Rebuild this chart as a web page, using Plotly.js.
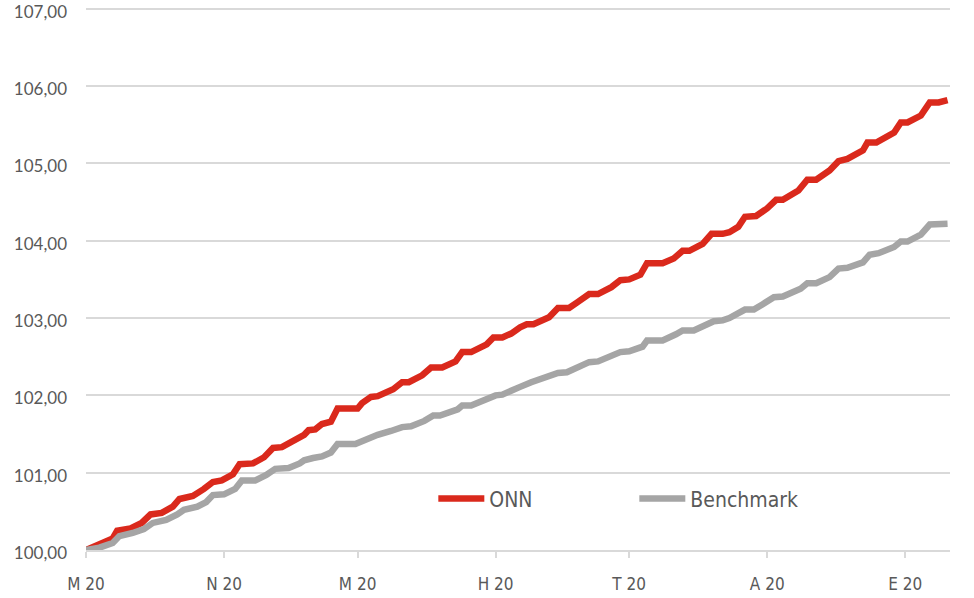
<!DOCTYPE html>
<html>
<head>
<meta charset="utf-8">
<script src="https://cdn.plot.ly/plotly-3.0.1.min.js"></script>
<style>
  html, body { margin: 0; padding: 0; background: #ffffff; }
  #chart { width: 974px; height: 598px; }
</style>
</head>
<body>
<div id="chart"></div>
<script>
// Days from the start of the period
const onnDays = [0, 6, 12, 14, 20, 25, 29, 34, 39, 42, 48, 53, 57, 61, 66, 69, 75, 80, 84, 88, 93, 98, 100, 103, 106, 110, 113, 122, 124, 128, 131, 138, 142, 145, 151, 155, 160, 166, 169, 173, 180, 183, 187, 191, 195, 198, 201, 208, 212, 217, 221, 226, 230, 236, 240, 244, 249, 252, 259, 264, 268, 271, 277, 281, 286, 289, 293, 296, 301, 306, 310, 313, 320, 324, 328, 334, 338, 342, 349, 351, 355, 363, 366, 369, 375, 379, 383, 387];
const onnValues = [100.00, 100.08, 100.15, 100.25, 100.28, 100.35, 100.46, 100.48, 100.56, 100.66, 100.70, 100.79, 100.88, 100.90, 100.98, 101.11, 101.12, 101.20, 101.32, 101.33, 101.41, 101.49, 101.55, 101.56, 101.63, 101.66, 101.83, 101.83, 101.90, 101.98, 101.99, 102.08, 102.17, 102.17, 102.26, 102.36, 102.36, 102.44, 102.56, 102.56, 102.66, 102.75, 102.75, 102.80, 102.88, 102.92, 102.92, 103.01, 103.13, 103.13, 103.21, 103.31, 103.31, 103.40, 103.49, 103.50, 103.56, 103.71, 103.71, 103.77, 103.87, 103.87, 103.96, 104.09, 104.09, 104.11, 104.18, 104.31, 104.32, 104.42, 104.53, 104.53, 104.65, 104.79, 104.79, 104.91, 105.03, 105.06, 105.17, 105.27, 105.27, 105.40, 105.53, 105.53, 105.62, 105.79, 105.79, 105.82];

const benchDays = [0, 6, 12, 15, 21, 26, 30, 36, 41, 44, 50, 54, 57, 62, 67, 70, 76, 81, 85, 91, 96, 98, 102, 106, 110, 113, 121, 128, 131, 137, 142, 146, 152, 156, 159, 167, 169, 173, 181, 184, 187, 191, 195, 200, 207, 212, 216, 221, 226, 230, 236, 240, 244, 250, 252, 259, 265, 268, 273, 279, 282, 286, 289, 296, 300, 304, 309, 313, 321, 324, 328, 334, 338, 342, 349, 352, 356, 363, 366, 369, 375, 379, 383, 387];
const benchValues = [100.00, 100.03, 100.09, 100.18, 100.22, 100.27, 100.35, 100.39, 100.46, 100.52, 100.56, 100.62, 100.71, 100.72, 100.79, 100.90, 100.90, 100.97, 101.05, 101.06, 101.12, 101.16, 101.19, 101.21, 101.26, 101.37, 101.37, 101.47, 101.49, 101.54, 101.59, 101.60, 101.67, 101.74, 101.74, 101.82, 101.87, 101.87, 101.96, 102.00, 102.01, 102.07, 102.11, 102.17, 102.24, 102.29, 102.30, 102.37, 102.43, 102.44, 102.51, 102.56, 102.57, 102.63, 102.71, 102.71, 102.79, 102.84, 102.84, 102.91, 102.96, 102.97, 103.00, 103.11, 103.11, 103.18, 103.27, 103.28, 103.38, 103.45, 103.45, 103.53, 103.64, 103.65, 103.72, 103.82, 103.84, 103.92, 103.99, 103.99, 104.08, 104.21, 104.21, 104.22];

const tickDays = [0, 62, 122, 184, 244, 306, 368];
const tickLabels = ['M 20', 'N 20', 'M 20', 'H 20', 'T 20', 'A 20', 'E 20'];
const yTicks = [100, 101, 102, 103, 104, 105, 106, 107];

const seriesNames = ['ONN', 'Benchmark'];

const cond = '"DejaVu Sans Condensed", Lato, sans-serif';

const traces = [
  {
    x: onnDays, y: onnValues, name: seriesNames[0], type: 'scatter', mode: 'lines',
    line: { color: '#da291c', width: 6.5 }
  },
  {
    x: benchDays, y: benchValues, name: seriesNames[1], type: 'scatter', mode: 'lines',
    line: { color: '#a5a5a5', width: 6.5 }
  }
];

const layout = {
  width: 974, height: 598,
  margin: { l: 86, r: 24, t: 5, b: 48, pad: 0 },
  paper_bgcolor: '#ffffff', plot_bgcolor: '#ffffff',
  separators: ',.',
  font: { family: cond, color: '#595959', size: 18 },
  showlegend: true,
  legend: {
    orientation: 'h', x: 0.402, xanchor: 'left', y: 0.094, yanchor: 'middle',
    font: { family: cond, size: 21, color: '#595959' },
    itemwidth: 46, entrywidth: 140, entrywidthmode: 'pixels',
    bgcolor: 'rgba(0,0,0,0)', borderwidth: 0
  },
  xaxis: {
    range: [0, 388.1], tickvals: tickDays, ticktext: tickLabels,
    showgrid: false, zeroline: false,
    showline: true, linecolor: '#d9d9d9', linewidth: 2,
    ticks: 'outside', ticklen: 6, tickwidth: 2, tickcolor: '#d9d9d9',
    ticklabelstandoff: 12, ticklabeloverflow: 'allow',
    tickfont: { family: cond, size: 17, color: '#595959' },
    fixedrange: true
  },
  yaxis: {
    range: [100, 107.05], tickmode: 'array', tickvals: yTicks, tickformat: '.2f',
    showgrid: true, gridcolor: '#d9d9d9', gridwidth: 2,
    zeroline: false, showline: false, ticks: '',
    ticklabelstandoff: 18, ticklabelshift: 3, ticklabeloverflow: 'allow',
    tickfont: { family: 'Lato, sans-serif', size: 17, color: '#595959' },
    fixedrange: true
  }
};

Plotly.newPlot('chart', traces, layout, { displayModeBar: false, staticPlot: true });
</script>
</body>
</html>
